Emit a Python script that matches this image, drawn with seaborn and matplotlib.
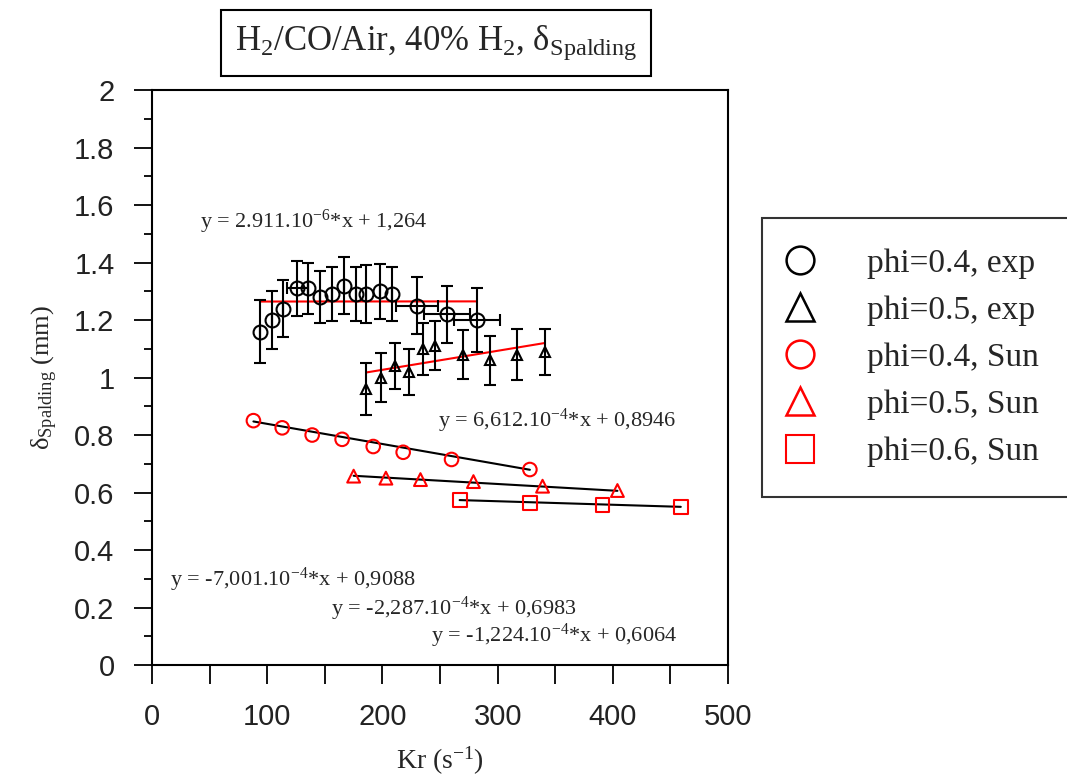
import matplotlib
matplotlib.use('Agg')
import matplotlib.pyplot as plt
import seaborn as sns
import numpy as np
from matplotlib.lines import Line2D
from matplotlib.ticker import MultipleLocator

# phi=0.4, experiment (black circles, error bars)
kr_04_exp = [94, 104, 114, 126, 135, 146, 156, 167, 177, 186, 198, 208, 230, 256, 282]
d_04_exp = [1.16, 1.20, 1.24, 1.31, 1.31, 1.28, 1.29, 1.32, 1.29, 1.29, 1.30, 1.29, 1.25, 1.22, 1.20]
yerr_04_exp = [0.11, 0.10, 0.10, 0.095, 0.09, 0.09, 0.095, 0.10, 0.095, 0.10, 0.095, 0.095, 0.10, 0.10, 0.11]
xerr_04_exp = [0, 0, 0, 9, 0, 0, 0, 0, 0, 0, 0, 0, 18, 20, 20]

# phi=0.5, experiment (black triangles, error bars)
kr_05_exp = [186, 199, 211, 223, 235, 246, 270, 293, 317, 341]
d_05_exp = [0.96, 1.00, 1.04, 1.02, 1.10, 1.11, 1.08, 1.06, 1.08, 1.09]
yerr_05_exp = [0.09, 0.085, 0.08, 0.08, 0.09, 0.085, 0.085, 0.085, 0.09, 0.08]

# Sun et al. data
kr_04_sun = [88, 113, 139, 165, 192, 218, 260, 328]
d_04_sun = [0.85, 0.825, 0.80, 0.785, 0.76, 0.74, 0.715, 0.68]
kr_05_sun = [175, 203, 233, 279, 339, 404]
d_05_sun = [0.657, 0.650, 0.645, 0.638, 0.622, 0.607]
kr_06_sun = [267, 328, 391, 459]
d_06_sun = [0.573, 0.565, 0.557, 0.549]

# linear fits: slope, intercept, x range
fits = [
    (2.911e-6, 1.264, 94, 282, 'red'),
    (6.612e-4, 0.8946, 186, 341, 'red'),
    (-7.001e-4, 0.9088, 88, 328, 'black'),
    (-2.287e-4, 0.6983, 175, 404, 'black'),
    (-1.224e-4, 0.6064, 267, 459, 'black'),
]

fit_labels = [
    ('y = 2.911.10$^{-6}$*x + 1,264', 42, 1.54),
    ('y = 6,612.10$^{-4}$*x + 0,8946', 248, 0.85),
    ('y = -7,001.10$^{-4}$*x + 0,9088', 16, 0.295),
    ('y = -2,287.10$^{-4}$*x + 0,6983', 155, 0.195),
    ('y = -1,224.10$^{-4}$*x + 0,6064', 242, 0.10),
]

sns.set_style('ticks')
plt.rcParams['font.family'] = ['Liberation Serif', 'DejaVu Serif']
plt.rcParams['mathtext.fontset'] = 'custom'
plt.rcParams['mathtext.rm'] = 'Liberation Serif'
plt.rcParams['mathtext.it'] = 'Liberation Serif:italic'
plt.rcParams['mathtext.bf'] = 'Liberation Serif:bold'

fig = plt.figure(figsize=(10.67, 7.8), dpi=100)
ax = fig.add_axes([0.1425, 0.1474, 0.5398, 0.7372])

# fit lines
for m, b, x0, x1, c in fits:
    xs = np.array([x0, x1])
    ax.plot(xs, m * xs + b, color=c, lw=1.5, zorder=2)

# experimental data with error bars
ax.errorbar(kr_04_exp, d_04_exp, yerr=yerr_04_exp, xerr=xerr_04_exp, fmt='o',
            mfc='none', mec='black', mew=1.5, ms=10, ecolor='black', elinewidth=1.5,
            capsize=4, capthick=1.5, zorder=3)
ax.errorbar(kr_05_exp, d_05_exp, yerr=yerr_05_exp, fmt='^',
            mfc='none', mec='black', mew=1.5, ms=7, ecolor='black', elinewidth=1.5,
            capsize=4, capthick=1.5, zorder=3)

# Sun data
sns.scatterplot(x=kr_04_sun, y=d_04_sun, marker='o', s=95, color='red',
                facecolors='none', edgecolor='red', linewidth=1.5, ax=ax, zorder=4)
sns.scatterplot(x=kr_05_sun, y=d_05_sun, marker='^', s=85, color='red',
                facecolors='none', edgecolor='red', linewidth=1.5, ax=ax, zorder=4)
sns.scatterplot(x=kr_06_sun, y=d_06_sun, marker='s', s=100, color='red',
                facecolors='none', edgecolor='red', linewidth=1.5, ax=ax, zorder=4)

for txt, tx, ty in fit_labels:
    ax.text(tx, ty, txt, fontsize=16, va='center', ha='left')

ax.set_xlim(0, 500)
ax.set_ylim(0, 2)
ax.xaxis.set_major_locator(MultipleLocator(100))
ax.xaxis.set_minor_locator(MultipleLocator(50))
ax.yaxis.set_minor_locator(MultipleLocator(0.1))
ax.set_yticks(np.arange(0, 2.01, 0.2))
ax.set_yticklabels(['0', '0.2', '0.4', '0.6', '0.8', '1', '1.2', '1.4', '1.6', '1.8', '2'])

ax.tick_params(which='both', direction='out', top=False, right=False, color='black')
ax.tick_params(axis='y', which='major', length=13, width=1.3, pad=14)
ax.tick_params(axis='y', which='minor', length=6, width=1.3)
ax.tick_params(axis='x', which='both', length=14, width=1.3, pad=13)
for lab in ax.get_xticklabels() + ax.get_yticklabels():
    lab.set_fontfamily('Liberation Sans')
    lab.set_fontsize(21)
    lab.set_color('#222222')
for sp in ax.spines.values():
    sp.set_visible(True)
    sp.set_linewidth(1.5)
    sp.set_color('black')

ax.set_xlabel('Kr (s$^{-1}$)', fontsize=20, labelpad=10)
ax.set_ylabel(r'δ$_{\mathrm{Spalding}}$ (mm)', fontsize=19, labelpad=10)

ax.text(0.493, 1.082, r'H$_2$/CO/Air, 40% H$_2$, δ$_{\mathrm{Spalding}}$',
        transform=ax.transAxes, fontsize=25, ha='center', va='center',
        bbox=dict(boxstyle='square,pad=0.4', fc='white', ec='black', lw=1.5))

handles = [
    Line2D([], [], ls='none', marker='o', ms=20, mfc='none', mec='black', mew=1.8),
    Line2D([], [], ls='none', marker='^', ms=20, mfc='none', mec='black', mew=1.8),
    Line2D([], [], ls='none', marker='o', ms=20, mfc='none', mec='red', mew=1.8),
    Line2D([], [], ls='none', marker='^', ms=20, mfc='none', mec='red', mew=1.8),
    Line2D([], [], ls='none', marker='s', ms=20, mfc='none', mec='red', mew=1.5),
]
labels = ['phi=0.4, exp', 'phi=0.5, exp', 'phi=0.4, Sun', 'phi=0.5, Sun', 'phi=0.6, Sun']
leg = fig.legend(handles, labels, loc='upper left', bbox_to_anchor=(0.714, 0.7205),
                 fontsize=24, frameon=True, fancybox=False, edgecolor='black',
                 handletextpad=1.75, labelspacing=0.5, borderpad=0.9, handlelength=0.5,
                 borderaxespad=0)
leg.get_frame().set_linewidth(1.5)

fig.savefig('out.png', dpi=100)
